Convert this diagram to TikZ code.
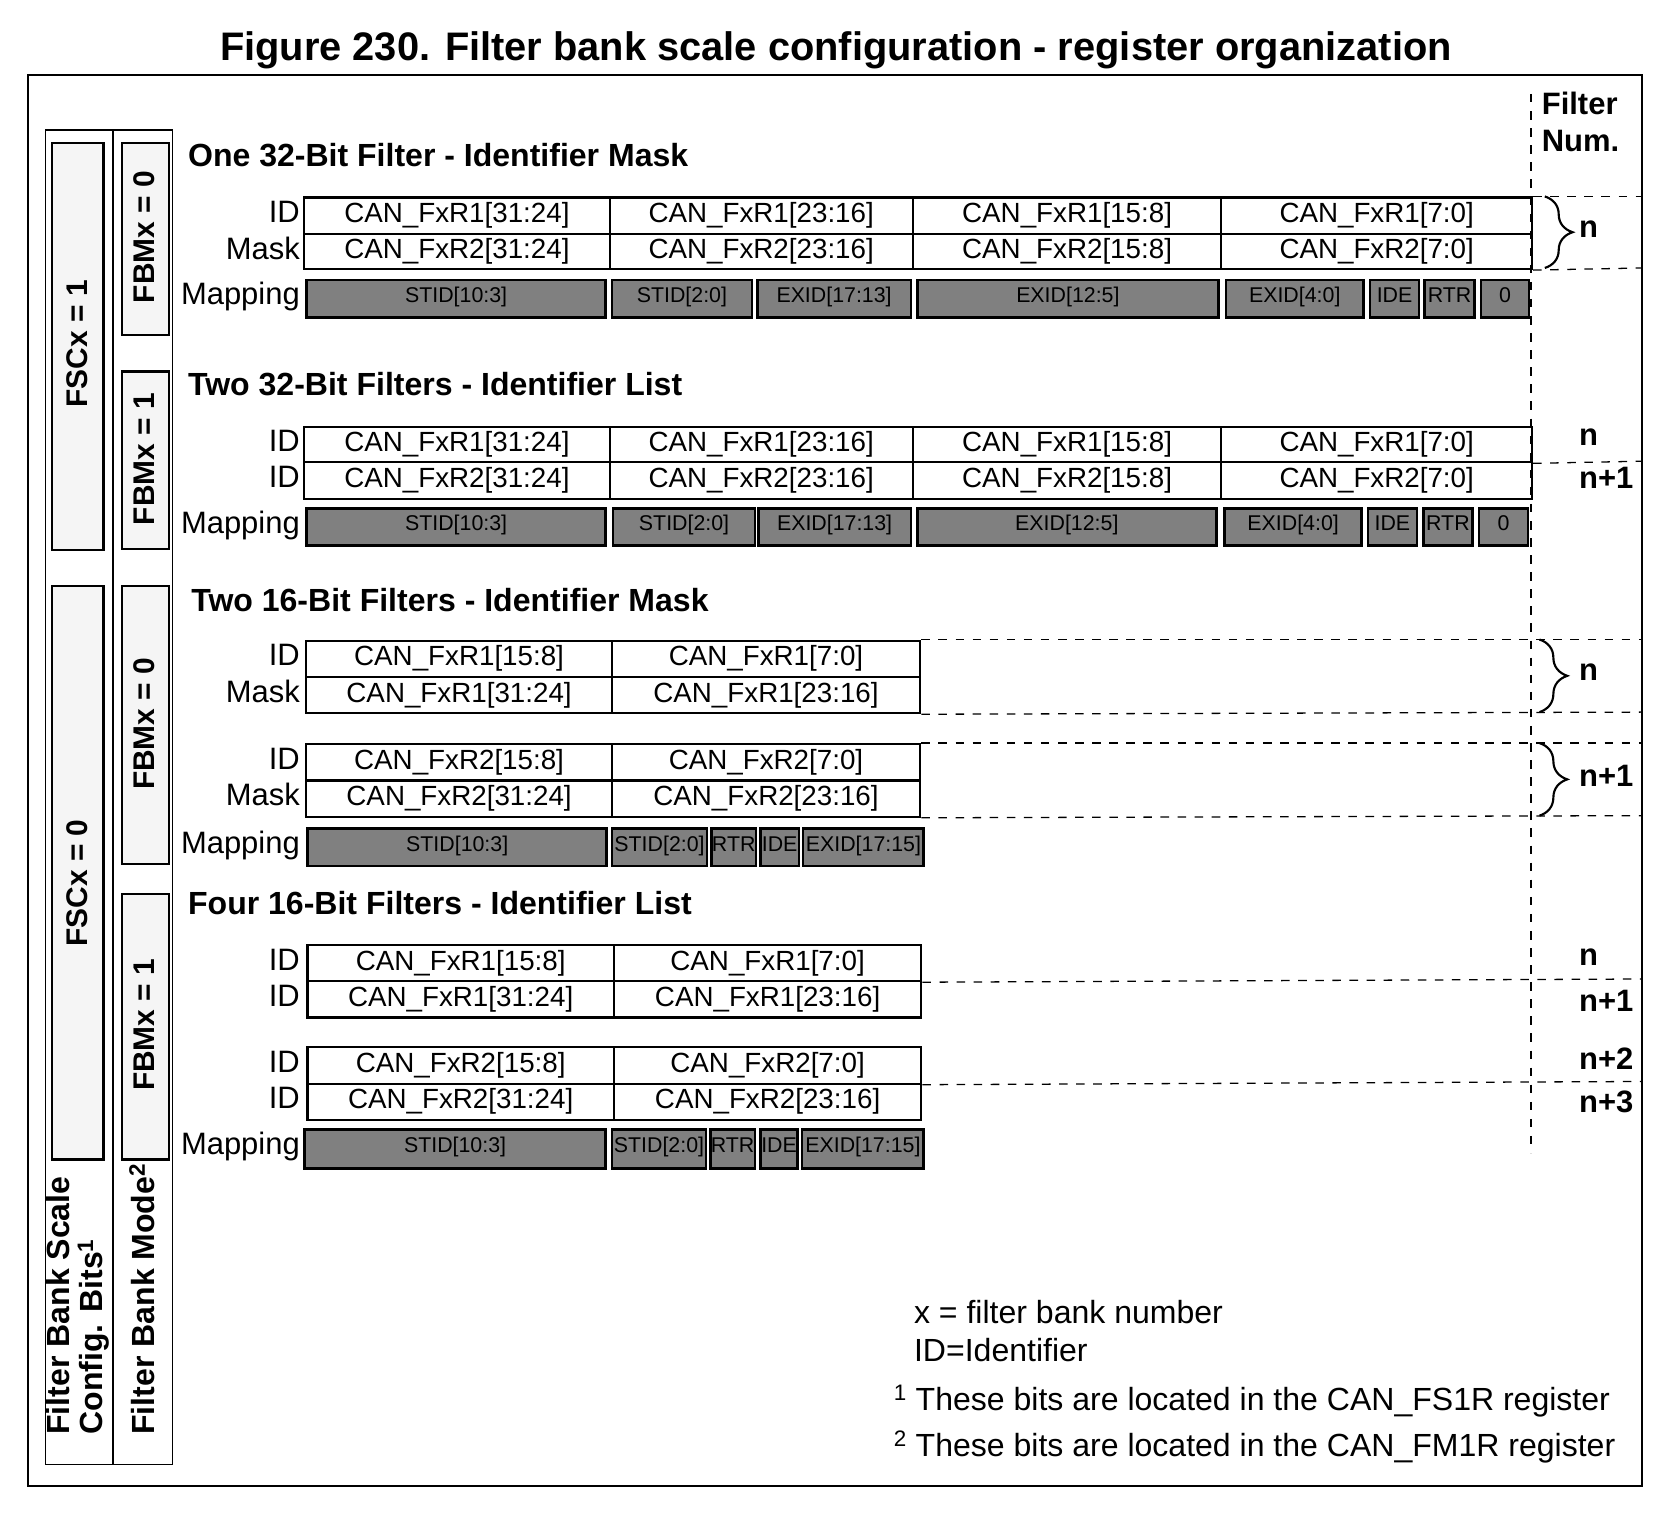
\documentclass[tikz,border=0pt]{standalone}
\usepackage{fontspec}
\setmainfont{Liberation Sans}
\usetikzlibrary{decorations.pathreplacing}
\definecolor{mapgray}{RGB}{128,128,128}
\definecolor{panelfill}{RGB}{245,245,245}

% register cell given by its corners
\newcommand\cellbox[6]{\node[cell, minimum width={#4-#2}, minimum height={#5-#3}] (#1) at (#2,#3) {#6};}
% bit-field box of a mapping row
\newcommand\bitbox[6]{\node[mapbox, minimum width={#4-#2}, minimum height={#5-#3}] (#1) at (#2,#3) {#6};}
% column panel
\newcommand\panelbox[5]{\node[panel, minimum width={#4-#2}, minimum height={#5-#3}] (#1) at (#2,#3) {};}

\begin{document}
\begin{tikzpicture}[x=1pt,y=-1pt,
  cell/.style={draw, line width=2pt, inner sep=0pt, anchor=north west, font=\fontsize{26}{31}\selectfont},
  mapbox/.style={draw, fill=mapgray, line width=2.5pt, inner sep=0pt, anchor=north west, font=\fontsize{20}{24}\selectfont, text height=0.72em, text depth=0.05em},
  rowlabel/.style={anchor=east, inner sep=0pt, font=\fontsize{29}{34}\selectfont, text height=0.72em, text depth=0pt},
  heading/.style={anchor=base west, inner sep=0pt, font=\bfseries\fontsize{30}{36}\selectfont},
  fnum/.style={anchor=base west, inner sep=0pt, font=\bfseries\fontsize{29}{34}\selectfont},
  sidetext/.style={rotate=90, inner sep=0pt, font=\bfseries\fontsize{28}{31}\selectfont},
  sidelabel/.style={rotate=90, inner sep=0pt, anchor=west, font=\bfseries\fontsize{30}{31}\selectfont},
  panel/.style={draw, fill=panelfill, line width=2pt, inner sep=0pt, anchor=north west},
  column/.style={draw, line width=1.5pt, inner sep=0pt, anchor=north west},
  sep/.style={dash pattern=on 8pt off 8pt, line width=1.2pt},
  note/.style={anchor=base west, inner sep=0pt, font=\fontsize{30}{36}\selectfont},
  brc/.style={decorate, decoration={brace, amplitude=26pt}, line width=2pt}
]
\useasboundingbox (0,0) rectangle (1568,1433);

% title and frame
\node[anchor=base, inner sep=0pt, font=\bfseries\fontsize{37.3}{44}\selectfont] (title) at (783,57)
  {Figure 230. Filter bank scale configuration - register organization};
\draw[line width=2pt] (26,70) rectangle (1538,1392);

% left configuration columns
\node[column, minimum width=63, minimum height=1250] (colfsc) at (42,121) {};
\node[column, minimum width=56, minimum height=1250] (colfbm) at (105,121) {};
\panelbox{fsc1}{48}{133}{96}{514}
\panelbox{fsc0}{48}{548}{96}{1085}
\panelbox{fbma}{113}{133}{157}{313}
\panelbox{fbmb}{113}{347}{157}{513}
\panelbox{fbmc}{113}{548}{157}{808}
\panelbox{fbmd}{113}{836}{157}{1085}
\node[sidetext] (fsc1t) at (72,322) {FSCx = 1};
\node[sidetext] (fsc0t) at (72,827) {FSCx = 0};
\node[sidetext] (fbmat) at (135,222) {FBMx = 0};
\node[sidetext] (fbmbt) at (135,430) {FBMx = 1};
\node[sidetext] (fbmct) at (135,678) {FBMx = 0};
\node[sidetext] (fbmdt) at (135,960) {FBMx = 1};
\node[sidelabel, align=left] (fsclabel) at (73,1344) {Filter Bank Scale\\Config. Bits\textsuperscript{1}};
\node[sidelabel] (fbmlabel) at (133,1344) {Filter Bank Mode\textsuperscript{2}};

% filter number column
\node[inner sep=0pt, anchor=north west, align=left, font=\bfseries\fontsize{29}{35}\selectfont] (fnumhead) at (1444,86) {Filter\\Num.};
\draw[sep] (1434,88) -- (1434,1080);

% ---------- one 32-bit filter, identifier mask ----------
\node[heading] (h1) at (176,156) {One 32-Bit Filter - Identifier Mask};
\node[rowlabel] (l1a) at (281,205) {ID};
\node[rowlabel] (l1b) at (281,239) {Mask};
\node[rowlabel] (l1c) at (281,282) {Mapping};
\cellbox{a11}{284}{184}{570}{218}{CAN\_FxR1[31:24]}
\cellbox{a12}{570}{184}{854}{218}{CAN\_FxR1[23:16]}
\cellbox{a13}{854}{184}{1143}{218}{CAN\_FxR1[15:8]}
\cellbox{a14}{1143}{184}{1434}{218}{CAN\_FxR1[7:0]}
\cellbox{a21}{284}{218}{570}{251}{CAN\_FxR2[31:24]}
\cellbox{a22}{570}{218}{854}{251}{CAN\_FxR2[23:16]}
\cellbox{a23}{854}{218}{1143}{251}{CAN\_FxR2[15:8]}
\cellbox{a24}{1143}{218}{1434}{251}{CAN\_FxR2[7:0]}
\bitbox{m1a}{286}{261}{566}{296}{STID[10:3]}
\bitbox{m1b}{572}{261}{703}{296}{STID[2:0]}
\bitbox{m1c}{708}{261}{852}{296}{EXID[17:13]}
\bitbox{m1d}{858}{261}{1140}{296}{EXID[12:5]}
\bitbox{m1e}{1147}{261}{1276}{296}{EXID[4:0]}
\bitbox{m1f}{1282}{261}{1328}{296}{IDE}
\bitbox{m1g}{1333}{261}{1380}{296}{RTR}
\bitbox{m1h}{1386}{261}{1431}{296}{0}
\draw[sep] (a14.north east) -- (1538,184);
\draw[sep] (a24.south east) -- (1538,251);
\draw[brc] (1447,184) -- (1447,251);
\node[fnum] (n1) at (1479,222) {n};

% ---------- two 32-bit filters, identifier list ----------
\node[heading] (h2) at (176,370) {Two 32-Bit Filters - Identifier List};
\node[rowlabel] (l2a) at (281,419) {ID};
\node[rowlabel] (l2b) at (281,453) {ID};
\node[rowlabel] (l2c) at (281,496) {Mapping};
\cellbox{b11}{284}{399}{570}{432}{CAN\_FxR1[31:24]}
\cellbox{b12}{570}{399}{854}{432}{CAN\_FxR1[23:16]}
\cellbox{b13}{854}{399}{1143}{432}{CAN\_FxR1[15:8]}
\cellbox{b14}{1143}{399}{1434}{432}{CAN\_FxR1[7:0]}
\cellbox{b21}{284}{432}{570}{466}{CAN\_FxR2[31:24]}
\cellbox{b22}{570}{432}{854}{466}{CAN\_FxR2[23:16]}
\cellbox{b23}{854}{432}{1143}{466}{CAN\_FxR2[15:8]}
\cellbox{b24}{1143}{432}{1434}{466}{CAN\_FxR2[7:0]}
\bitbox{m2a}{286}{475}{566}{510}{STID[10:3]}
\bitbox{m2b}{573}{475}{706}{510}{STID[2:0]}
\bitbox{m2c}{709}{475}{852}{510}{EXID[17:13]}
\bitbox{m2d}{858}{475}{1138}{510}{EXID[12:5]}
\bitbox{m2e}{1146}{475}{1274}{510}{EXID[4:0]}
\bitbox{m2f}{1280}{475}{1326}{510}{IDE}
\bitbox{m2g}{1332}{475}{1378}{510}{RTR}
\bitbox{m2h}{1384}{475}{1430}{510}{0}
\draw[sep] (b14.south east) -- (1538,432);
\node[fnum] (n2a) at (1479,417) {n};
\node[fnum] (n2b) at (1479,458) {n+1};

% ---------- two 16-bit filters, identifier mask ----------
\node[heading] (h3) at (179,573) {Two 16-Bit Filters - Identifier Mask};
\node[rowlabel] (l3a) at (281,620) {ID};
\node[rowlabel] (l3b) at (281,654) {Mask};
\node[rowlabel] (l3c) at (281,717) {ID};
\node[rowlabel] (l3d) at (281,751) {Mask};
\node[rowlabel] (l3e) at (281,796) {Mapping};
\cellbox{c11}{286}{599}{572}{633}{CAN\_FxR1[15:8]}
\cellbox{c12}{572}{599}{861}{633}{CAN\_FxR1[7:0]}
\cellbox{c21}{286}{633}{572}{667}{CAN\_FxR1[31:24]}
\cellbox{c22}{572}{633}{861}{667}{CAN\_FxR1[23:16]}
\cellbox{d11}{286}{696}{572}{730}{CAN\_FxR2[15:8]}
\cellbox{d12}{572}{696}{861}{730}{CAN\_FxR2[7:0]}
\cellbox{d21}{286}{730}{572}{764}{CAN\_FxR2[31:24]}
\cellbox{d22}{572}{730}{861}{764}{CAN\_FxR2[23:16]}
\bitbox{m3a}{287}{775}{567}{810}{STID[10:3]}
\bitbox{m3b}{572}{775}{661}{810}{STID[2:0]}
\bitbox{m3c}{665}{775}{707}{810}{RTR}
\bitbox{m3d}{711}{775}{747}{810}{IDE}
\bitbox{m3e}{751}{775}{864}{810}{EXID[17:15]}
\draw[sep] (c12.north east) -- (1538,599);
\draw[sep] (c22.south east) -- (1538,667);
\draw[sep] (d12.north east) -- (1538,696);
\draw[sep] (d22.south east) -- (1538,764);
\draw[brc] (1442,599) -- (1442,667);
\draw[brc] (1442,696) -- (1442,764);
\node[fnum] (n3a) at (1479,637) {n};
\node[fnum] (n3b) at (1479,737) {n+1};

% ---------- four 16-bit filters, identifier list ----------
\node[heading] (h4) at (176,857) {Four 16-Bit Filters - Identifier List};
\node[rowlabel] (l4a) at (281,905) {ID};
\node[rowlabel] (l4b) at (281,939) {ID};
\node[rowlabel] (l4c) at (281,1001) {ID};
\node[rowlabel] (l4d) at (281,1035) {ID};
\node[rowlabel] (l4e) at (281,1078) {Mapping};
\cellbox{e11}{287}{884}{574}{918}{CAN\_FxR1[15:8]}
\cellbox{e12}{574}{884}{862}{918}{CAN\_FxR1[7:0]}
\cellbox{e21}{287}{918}{574}{952}{CAN\_FxR1[31:24]}
\cellbox{e22}{574}{918}{862}{952}{CAN\_FxR1[23:16]}
\cellbox{f11}{287}{980}{574}{1014}{CAN\_FxR2[15:8]}
\cellbox{f12}{574}{980}{862}{1014}{CAN\_FxR2[7:0]}
\cellbox{f21}{287}{1014}{574}{1048}{CAN\_FxR2[31:24]}
\cellbox{f22}{574}{1014}{862}{1048}{CAN\_FxR2[23:16]}
\bitbox{m4a}{284}{1057}{566}{1093}{STID[10:3]}
\bitbox{m4b}{572}{1057}{660}{1093}{STID[2:0]}
\bitbox{m4c}{664}{1057}{706}{1093}{RTR}
\bitbox{m4d}{711}{1057}{746}{1093}{IDE}
\bitbox{m4e}{750}{1057}{864}{1093}{EXID[17:15]}
\draw[sep] (e12.south east) -- (1538,917);
\draw[sep] (f12.south east) -- (1538,1013);
\node[fnum] (n4a) at (1479,904) {n};
\node[fnum] (n4b) at (1479,947) {n+1};
\node[fnum] (n4c) at (1479,1002) {n+2};
\node[fnum] (n4d) at (1479,1042) {n+3};

% ---------- notes ----------
\node[note] (note1) at (856,1240) {x = filter bank number};
\node[note] (note2) at (856,1275) {ID=Identifier};
\node[note] (note3) at (837,1321) {\textsuperscript{1} These bits are located in the CAN\_FS1R register};
\node[note] (note4) at (837,1364) {\textsuperscript{2} These bits are located in the CAN\_FM1R register};
\end{tikzpicture}
\end{document}
